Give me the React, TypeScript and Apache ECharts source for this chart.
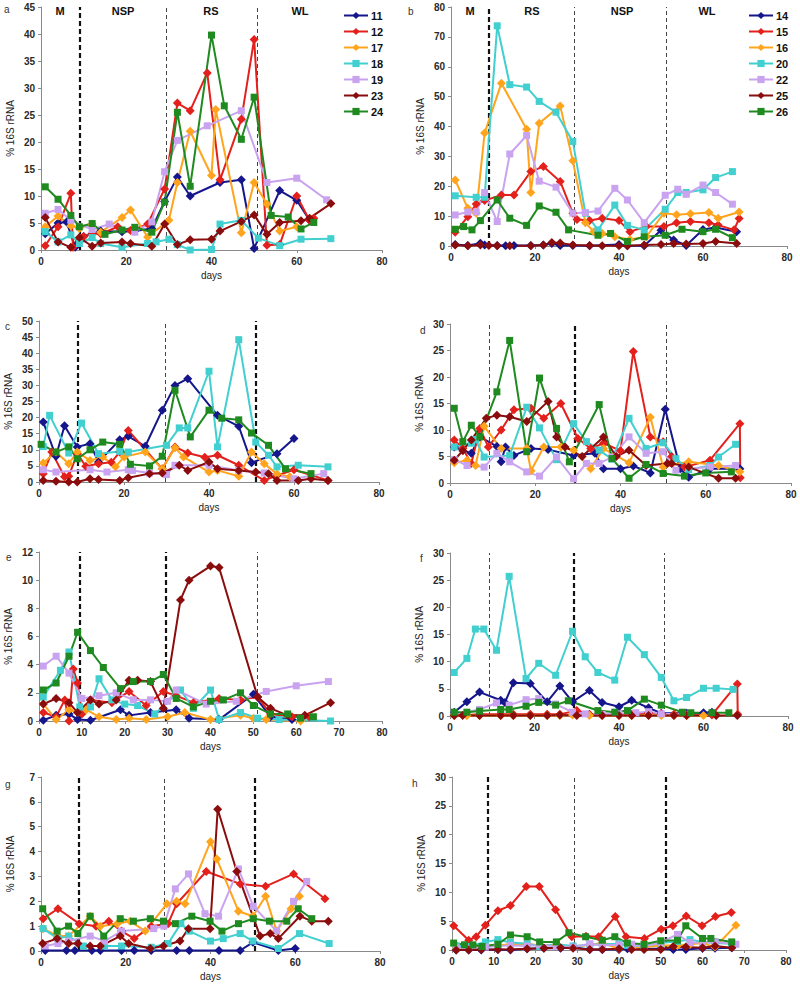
import React, { useEffect, useRef } from 'react';
import * as echarts from 'echarts';

// ---------- series names, colours, markers ----------
const NAMES_L = ['11', '12', '17', '18', '19', '23', '24'];
const NAMES_R = ['14', '15', '16', '20', '22', '25', '26'];
const COLORS = ['#15158c', '#e3201b', '#ffa41c', '#41cfcf', '#c9a3ef', '#8a0c0c', '#1f8a1f'];
const SYMBOLS = ['diamond', 'diamond', 'diamond', 'rect', 'rect', 'diamond', 'rect'];

// ---------- panel a ----------
const a11 = [[1,3],[4,5],[6,5.2],[8,0.5],[10,2.5],[12,3],[14,3.5],[19,3.4],[22,3.5],[26,4],[29,9],[32,13.5],[35,10],[42,12.5],[47,13],[50,0.3],[56,11],[60,9.2],[63,5.5]];
const a12 = [[1,0.8],[4,4.3],[7,10.5],[7.5,0.5],[10,2.5],[12,3],[14,3],[18,4.3],[21,3.6],[25,4.8],[29,11.3],[32,27.2],[35,25.8],[39,32.8],[42,13],[47,24.2],[50,39],[53,0.9],[56,1],[60,10],[63,5.5],[64,5.9]];
const a17 = [[1,4.3],[4,6.3],[7,4.5],[9,4],[12,4.8],[14,3.3],[19,6],[21,7.4],[25,2.4],[30,5.5],[32,12.5],[35,22],[40,13.8],[41,26],[47,3.2],[50,12.5],[53,8.5],[56,3.5],[60,4.3]];
const a18 = [[1,3.4],[4,1.5],[7,2.8],[9,1.2],[12,2.3],[14,1.2],[19,0.5],[25,1.2],[27,1.5],[30,2],[32,1],[35,0],[40,0.1],[42,4.8],[47,5.5],[51,2.2],[56,0.8],[61,2],[68,2.1]];
const a19 = [[1,6.8],[4,7.5],[7,5.5],[12,3.8],[16,4.8],[22,3.3],[26,5.2],[29,14.5],[32,20.3],[39,23],[47,25.8],[53,12.5],[60,13.3],[67,9.3]];
const a23 = [[1,6],[4,1.5],[7,0.5],[9,2.3],[12,0.7],[14,1.3],[19,1.5],[21,1.2],[26,0.7],[29,4.8],[32,1],[35,1.9],[40,2],[42,3.5],[47,5.3],[50,6.5],[53,2.9],[56,5.1],[61,5.4],[63,5.9],[68,8.6]];
const a24 = [[1,11.7],[4,9.4],[7,6.4],[9,4.3],[12,4.9],[15,2.9],[19,3.7],[22,4.2],[26,3.3],[29,8.9],[32,25.5],[35,11.8],[40,39.8],[43,26.7],[47,20.5],[50,28.3],[54,6.4],[58,6.1],[61,3.9],[64,5.1]];

// ---------- panel b ----------
const b14 = [[1,0.5],[4,0.2],[7,0.9],[8,0.3],[11,0.2],[13,0.1],[15,0.2],[19,0.2],[22,0.3],[24,0.8],[26,0.2],[29,0.2],[33,0.1],[40,0.5],[42,0.1],[46,0.1],[50,5.3],[53,2],[56,0.2],[60,5.5],[63,6.2],[68,4.8]];
const b15 = [[1,4.6],[4,9.8],[6,14.1],[8,15.2],[12,17.1],[15,17.1],[19,24.9],[22,26.6],[26,21.6],[29,11],[30,8.9],[33,8.5],[36,9.3],[40,8.5],[42.6,4.8],[46.5,6.5],[50.7,6.5],[53.7,7.8],[57,8.2],[61.4,7.8],[63.6,7],[67.4,5.4],[68.6,9.2]];
const b16 = [[1,22.1],[4,12.6],[6,11],[8,37.8],[12,54.5],[18,39.1],[19,17.9],[21,41.1],[26,46.9],[29,28.5],[32,7.8],[34,4.8],[36,4.2],[39,3.1],[42.6,2.2],[46.5,3.1],[50.7,11],[53.7,10.5],[57,10.8],[61.4,11.2],[63.6,9.3],[68.6,11.4]];
const b20 = [[1,16.8],[6,16.3],[8,16.3],[11,73.7],[14,54],[18,53.2],[21,48.4],[25,44.8],[29,35],[32,11],[35,5.4],[39,13.7],[42,6.9],[46,5.4],[51,12.3],[54,17.9],[56,17.9],[60,18.8],[63,22.9],[67,24.9]];
const b22 = [[1,10.4],[4,11.4],[6,11.4],[8,17.9],[11,8.2],[14,30.8],[18,37],[21,21.7],[25,19.7],[29,11],[32,11.2],[35,11.7],[39,19.3],[42,15.4],[46,7.8],[51,17],[54,19],[56,17.3],[60,20.4],[63,17.9],[67,14]];
const b25 = [[1,0.3],[4,0.1],[7,0.3],[9,0.2],[11,0.1],[14,0.1],[19,0.1],[22,0.3],[24,1.2],[26,1],[29,0.3],[33,0.2],[36,0.1],[40,0.1],[42,0.1],[46,0.3],[50,0.5],[53,0.8],[56,0.7],[60,0.8],[63,1.5],[68,0.8]];
const b26 = [[1,5.6],[3,6.5],[5,5.4],[7,8.5],[11,15.4],[14,9.3],[18,6.9],[21,13.4],[25,11.3],[28,5.4],[35,3.6],[38,4.2],[42,1.5],[46,3.1],[51,3.6],[55,5.6],[60,4.8],[63,5.6],[67,2.8]];

// ---------- panel c ----------
const c11 = [[1,18.6],[4,8],[6,17.5],[9,10.9],[12,11.9],[14,6.2],[19,13.1],[21,14.2],[25,11.1],[29,22.3],[32,30],[35,32.1],[42,20.7],[47,17.3],[50,6],[56,8.8],[60,13.5]];
const c12 = [[1,2.6],[3,9.3],[6,1.6],[7,1.8],[9,8.8],[11,4.9],[14,5.7],[17,6.1],[19,9.3],[21,16],[29,4.1],[32,10.9],[35,9],[39,7.7],[42,8.3],[47,5.2],[53,0.5],[56,2],[60,3.8],[68,0.5]];
const c17 = [[1,5.9],[4,9.3],[7,5.7],[9,9.3],[12,6.7],[15,7.8],[18,4.7],[20,7.8],[25,9.3],[29,4.1],[32,10.6],[34,7.8],[40,3.1],[42,3.6],[47,1.8],[50,9.3],[53,5.7],[56,2.5],[59,1.6]];
const c18 = [[1,11],[2.5,20.7],[7,9],[10,18.3],[14,8.8],[19,9.5],[21,9.3],[30,11.4],[33,16.8],[35,16.8],[40,34.4],[42,10.9],[47,44.2],[51,12.4],[54,8.3],[56,4.7],[61,5.2],[68,4.7]];
const c19 = [[1,3.8],[4,3.1],[12,3.8],[16,3.1],[21,3.8],[22,3.6],[26,2.8],[30,2.3],[32,5.2],[40,5.2],[47,3.6],[53,2.8],[60,1],[67,2.6]];
const c23 = [[1,0.5],[4,0.2],[7,0],[9,0],[12,1],[14,0.8],[19,0.5],[21,1.3],[26,2.6],[29,2.8],[33,5.2],[35,3.6],[40,6.2],[42,4.1],[47,3.6],[51,3.1],[54,2.6],[56,0.5],[61,0.5],[64,1],[68,0.5]];
const c24 = [[0.5,11.7],[4,9.3],[7,10.9],[9,7.2],[12,10],[15,12.4],[19,11.7],[21.5,5.5],[26,5],[29,8],[32,28.5],[35.6,14],[40,22.3],[43,19.8],[47,19.3],[50,15.2],[54,11.4],[58,4.1],[64,2.6]];

// ---------- panel d ----------
const d14 = [[1,6.8],[5,5.6],[7,8.7],[11,6.9],[12,4],[13,6.8],[15,5.2],[19,6.5],[23,6.3],[29,5.2],[34,5.6],[36,2.7],[40,2.7],[43,3.2],[47,1.9],[50.5,13.9],[54,2.7],[56,1.1],[61,2.7],[68,2.7]];
const d15 = [[1,8.1],[3,6.5],[5,3.7],[7,10.3],[9,6.8],[12,10],[15,13.8],[19,14.1],[22,12.2],[26,15],[30,8.4],[33,6.5],[36,7.5],[40,6.1],[43,24.8],[47,8.7],[50,7.8],[52,5],[55,3],[61,4.3],[68,11.2],[68.1,1]];
const d16 = [[1,3.8],[4,4.3],[6,3.3],[8,10.7],[12,6.5],[18,6.5],[19,2.3],[22,6.8],[26,6.8],[29,6.2],[33,2.7],[36,6.5],[42,3.8],[47,12.4],[50,3],[56,4],[63,3.3],[68,2.1]];
const d20 = [[1,6.8],[5,7.5],[6,8.2],[8,4.9],[14,5.2],[18,14.3],[21,10.4],[25,4.4],[29,11.2],[32,7.8],[35,6.2],[38,4.5],[42,12.2],[46,6.5],[50,7.6],[53,4.6],[56,2.5],[61,3.3],[63,4.9],[67,7.3]];
const d22 = [[1,4.4],[4,3.3],[8,3],[11,5.6],[14,4],[18,2.1],[21,1.3],[25,4.9],[29,0.8],[32,3.7],[35,3.7],[38,4.9],[42,8.7],[46,5.6],[50,5.9],[53,2.4],[61,3],[67,3.3]];
const d25 = [[1,4.3],[3,6.1],[5,8.1],[8.5,12.2],[11,12.8],[14,12.5],[18,11.6],[23,15.4],[25,8.7],[27,6.8],[31,5],[36,8.7],[39,5],[42,6.2],[46,3.3],[51,3.7],[52,3.7],[56,3],[63,0.9],[67,0.9]];
const d26 = [[1,14.1],[3,7.8],[5,10.9],[7,8.7],[11,17.2],[14,26.9],[18,5.9],[21,19.8],[25,10.3],[28,4],[35,14.8],[38,4.6],[42,0.9],[46,3.5],[50,1.8],[55,1.3],[60,1.9],[66,2.1]];

// ---------- panel e ----------
const e11 = [[1,0.05],[4,0.4],[7,0.5],[9,0.1],[12,0.05],[19,0.8],[21,0.4],[26,0.6],[32,0.8],[35,0.2],[42,0.1],[50,1.9],[54,0.3],[59,0.1]];
const e12 = [[1,0.6],[4,0.3],[6,1.5],[7,0],[8,3.7],[9,2.7],[10,0.5],[12,1.5],[17,1.3],[21,2.1],[25,1.1],[29,2.1],[32,1.8],[36,1.3],[42,1.6],[47,1.5],[51,1.7],[54,0.5],[59,0.3],[63,0.3]];
const e17 = [[1,1.2],[4,0.1],[7,0.8],[9,0.6],[11,0.8],[14,0.3],[18,0.1],[21,0.2],[25,0.1],[30,0.3],[34,0.6],[40,0.1],[47,0.4],[50,0.2],[53,0.1],[61,0]];
const e18 = [[1,1.7],[5,3.6],[7,4.9],[9.5,1],[12,1],[14,3],[17,1.5],[20,1.2],[23,1.1],[27,0.5],[33,2.2],[36,0.9],[40,2.2],[42,0.1],[47,0.6],[51,0.2],[56,0.1],[68,0]];
const e19 = [[1,3.9],[4,4.6],[7,3.4],[10,1.6],[14,1.8],[18,2],[22,1.5],[26,1.5],[30,1.4],[32,2.2],[39,1.2],[46,1.4],[53,2.1],[60,2.5],[67.5,2.8]];
const e23 = [[1,1.2],[4,1.6],[7,1.3],[9,0.6],[12,1.5],[14,1.2],[18,1.5],[21,2.9],[23,2.9],[26,2.8],[29,0.9],[33,8.6],[35,10],[40,11],[42,10.9],[51,1.7],[54,0.9],[58,0.4],[62,0.4],[68,1.3]];
const e24 = [[1,2.2],[4,2.7],[7,4.6],[9,6.3],[12,5],[15,3.8],[19,2.3],[22,2.8],[26,2.8],[29,3.3],[32,1.6],[36,1],[40,1.4],[43,1.5],[47,2],[50,1.1],[54,0.5],[58,0.5],[61,0.2],[64,0.3]];

// ---------- panel f ----------
const f14 = [[1,0.7],[4,2.6],[7,4.4],[12,2.9],[13,2.5],[15,6.1],[19,6],[23,2.6],[26,5.5],[29,2.6],[33,4.7],[36,2.5],[40,1.7],[43,2.9],[47,1.5],[50,0.5],[56,0.5],[60,0.6],[62,0.7]];
const f15 = [[1,0.2],[4,0.2],[7,0.3],[12,0.3],[15,0.3],[19,0.3],[23,0.3],[26,0.3],[30,1],[33,0.3],[36,0.2],[40,0.2],[43,0.3],[47,0.6],[50,0.4],[53,0.3],[56,0.2],[62,0.2],[68,5.9],[68.1,0.3]];
const f16 = [[1,0.1],[4,0.1],[7,0.1],[12,0.1],[15,0.1],[19,0.1],[23,0.1],[26,0.1],[29,0.2],[33,0.1],[36,0.1],[40,0.1],[43,0.1],[47,0.2],[50,0.1],[53,0.1],[56,0.1],[60,0.1]];
const f20 = [[1,8],[4,10.6],[6,16],[8,16],[11,12.1],[14,25.7],[18,6.9],[21,9.7],[25,7.5],[29,15.6],[32,10.9],[35,8],[39,6.6],[42,14.5],[46,11.3],[50,7.1],[53,2.8],[56,3.4],[60,5.1],[63,5.1],[67,4.9]];
const f22 = [[1,0.3],[7,1.2],[11,2.4],[14,2],[18,3],[21,3.2],[25,2.2],[29,0.7],[32,0.4],[36,0.3],[40,0.4],[44,0.6],[47,0.8],[50,0.4],[56,0.3]];
const f25 = [[1,0.1],[3,0.1],[7,0.1],[12,0.1],[15,0.1],[19,0.1],[23,0.1],[26,0.2],[30,0.1],[36,0.1],[40,0.1],[43,0.1],[47,0.1],[53,0.1],[56,0.1],[63,0.1],[68,0.1]];
const f26 = [[1,0.7],[4,0.7],[7,0.9],[12,1.2],[14,1.2],[18,1.8],[21,2.5],[25,2],[28,2.8],[35,1],[39,0.7],[42,1],[46,3.1],[50,2],[55,0.7],[57,0.6],[62,0.6],[66,0.6]];

// ---------- panel g ----------
const g11 = [[1,0.02],[6,0.02],[8,0.02],[12,0.02],[14,0.02],[19,0.02],[22,0.02],[26,0.02],[32,0.02],[35,0.02],[42,0.02],[47,0.02],[50,0.35],[56,0.02],[60,0.1]];
const g12 = [[0.5,1.3],[4,1.7],[9,1.1],[13,1],[16,1.2],[19,0.8],[22,0.5],[26,1],[30,1.1],[32,1.9],[39,3.2],[47,2.7],[53,2.6],[59.6,3.1],[67,2.1]];
const g17 = [[0.5,0.9],[4,0.6],[6.5,0.6],[11.6,1.4],[14,1],[18,1.1],[21,1.2],[24.6,0.8],[29.7,1.9],[32,2],[34,1.9],[40,4.4],[41.5,3.7],[46.6,1.6],[50,1.4],[53,2.2],[55.6,0.8],[59,1.7],[61,2.2]];
const g18 = [[0.5,0.9],[4,0.5],[6.5,0.6],[10,0.2],[15,0.2],[19,0.2],[26,0.15],[30,0.3],[33,1.1],[35,0.8],[40,0.4],[43,0.5],[47,0.7],[50,0.4],[56,0.1],[61,0.7],[68,0.3]];
const g19 = [[1,0.2],[4,0.3],[6.5,0.4],[11.6,0.6],[15,0.4],[19,0.8],[26.6,0.9],[29,1],[31.7,2.5],[34.8,3.1],[38.7,1.5],[41.9,1.4],[46.6,3.3],[50.1,1.8],[55.6,0.8],[59.6,2],[62.7,2.8]];
const g23 = [[0.4,0.3],[3.8,0.5],[6.5,0.3],[8.7,0.3],[11.6,0.2],[14,0.2],[18.7,0.6],[20.7,0.3],[25.8,0.1],[28.9,0.2],[32.8,0.4],[34.8,0.9],[39.9,0.9],[41.7,5.7],[46.2,3.2],[51.7,0.6],[54.1,0.7],[56,0.5],[61.1,1.4],[63.9,1.2],[67.8,1.2]];
const g24 = [[0.4,1.7],[3.8,0.8],[6.5,1],[8.7,0.7],[11.6,1.4],[14.8,0.6],[18.7,1.3],[21.8,1.2],[25.8,1.3],[28.9,1.2],[31.7,1.1],[35.6,1.4],[39.9,1.2],[42.7,0.8],[46.6,1.1],[50.1,1.3],[53.9,1.2],[58,1.2],[60.7,1.7],[63.9,1.3]];

// ---------- panel h ----------
const h14 = [[1,0],[4,0],[7,0],[11,0.1],[14,0],[18,0.2],[22,0.3],[26,0.3],[29,0.5],[33,0.1],[36,0.1],[40,0.1],[42,0.2],[46,0.2],[50,0.2],[53,0.1],[56,0.1],[60,0.3],[63,0.3],[67,0.4]];
const h15 = [[0.4,4.2],[4,1.7],[5.8,2.3],[8,4.3],[11,6.8],[14,7.7],[17.8,11],[20.9,11],[24.8,7],[28.7,2.3],[32.1,2.4],[35.1,2.3],[39.1,5.8],[41.7,2.3],[46.1,2],[50.1,3.6],[52.9,4.2],[56.1,5.9],[59.9,4.2],[63.1,5.8],[66.9,6.5]];
const h16 = [[1,0.3],[4,0.4],[8,0.9],[11,0.8],[14,1],[18,1.1],[21,0.8],[25,0.9],[29,0.5],[33,0.9],[36,1.2],[40,0.2],[43,0.3],[46,0.5],[50,0.8],[54,0.8],[57,1],[60,1.2],[63,0.5],[68,4.3]];
const h20 = [[1,0.7],[4,0.6],[8,1.4],[11,1.8],[14,1.3],[18,1.1],[21,0.6],[25,1],[29,0.7],[33,0.9],[36,1],[40,1.1],[42,0.8],[46,0.7],[50,1.2],[54,1.5],[57,1.8],[60,1.4],[63,1.2],[67,1.1]];
const h22 = [[1,0.4],[4,0.3],[8,0.5],[11,0.7],[14,0.8],[18,0.7],[21,0.9],[25,0.6],[29,0.5],[33,1.1],[36,0.8],[40,0.9],[43,1],[46,0.6],[50,1.3],[54,2.7],[57,1.3],[60,1.2],[63,1.4],[68,1]];
const h25 = [[1,0],[4,0],[7,0.1],[11,0.1],[14,0.1],[18,0.2],[22,0.3],[26,0.4],[29,0.3],[33,0.1],[36,0.1],[40,0.2],[43,0.1],[46,0.1],[50,0.1],[53,0.6],[56,0.5],[60,0.4],[63,0.7],[67,0.4]];
const h26 = [[0.4,1.2],[3,0.9],[5,0.9],[7.2,0.6],[11,1],[14,2.6],[18,2.3],[21,1.4],[25,1.4],[28,3],[32,2.3],[36,1.7],[39,2.3],[42,1.2],[46,1],[50,1.6],[54,1.7],[56,4.2],[60,2],[62,2],[67,1.4]];

// phase boundaries (day, bold?) and axis scales
const DIV_A = [[9.2, 1], [29.3, 0], [50.7, 0]];
const DIV_B = [[8.9, 1], [29.4, 0], [51.2, 0]];
const DIV_C = [[9.0, 1], [29.6, 0], [51.0, 1]];
const DIV_D = [[9.2, 0], [29.3, 1], [50.7, 0]];
const DIV_E = [[9.5, 1], [29.6, 1], [50.9, 0]];
const DIV_F = [[9.2, 0], [29.4, 1], [50.7, 0]];
const DIV_G = [[9.0, 1], [29.2, 0], [50.5, 1]];
const DIV_H = [[8.5, 1], [29.3, 0], [51.1, 1]];

const PANELS = [
  { letter: 'a', names: NAMES_L, data: [a11, a12, a17, a18, a19, a23, a24], ymax: 45, yint: 5, xint: 20, div: DIV_A, g: [41, 7, 341, 243], lp: [4, 4] },
  { letter: 'b', names: NAMES_R, data: [b14, b15, b16, b20, b22, b25, b26], ymax: 80, yint: 10, xint: 20, div: DIV_B, g: [451, 7, 336, 239], lp: [408, 6] },
  { letter: 'c', names: NAMES_L, data: [c11, c12, c17, c18, c19, c23, c24], ymax: 50, yint: 5, xint: 20, div: DIV_C, g: [39, 321, 340, 161], lp: [5, 321] },
  { letter: 'd', names: NAMES_R, data: [d14, d15, d16, d20, d22, d25, d26], ymax: 30, yint: 5, xint: 20, div: DIV_D, g: [450, 324, 341, 159], lp: [420, 325] },
  { letter: 'e', names: NAMES_L, data: [e11, e12, e17, e18, e19, e23, e24], ymax: 12, yint: 2, xint: 10, div: DIV_E, g: [39, 552, 343, 169], lp: [6, 552] },
  { letter: 'f', names: NAMES_R, data: [f14, f15, f16, f20, f22, f25, f26], ymax: 30, yint: 5, xint: 20, div: DIV_F, g: [450, 553, 338, 163], lp: [420, 553] },
  { letter: 'g', names: NAMES_L, data: [g11, g12, g17, g18, g19, g23, g24], ymax: 7, yint: 1, xint: 20, div: DIV_G, g: [41, 777, 339, 174], lp: [5, 779] },
  { letter: 'h', names: NAMES_R, data: [h14, h15, h16, h20, h22, h25, h26], ymax: 30, yint: 5, xint: 10, div: DIV_H, g: [452, 777, 334, 173], lp: [412, 778] },
];

const PHASES_A = [['M', 60], ['NSP', 123], ['RS', 211], ['WL', 300]];
const PHASES_B = [['M', 470], ['RS', 532], ['NSP', 622], ['WL', 707]];

const FONT = 'Liberation Sans, Arial, sans-serif';

export default function App() {
  const ref = useRef<HTMLDivElement>(null);
  useEffect(() => {
    if (!ref.current) return;
    const chart = echarts.init(ref.current, undefined, { renderer: 'svg' });
    const grid: any[] = [];
    const xAxis: any[] = [];
    const yAxis: any[] = [];
    const series: any[] = [];
    const graphic: any[] = [];
    const axisCommon = {
      axisLine: { lineStyle: { color: '#8a8a8a', width: 1 } },
      axisTick: { show: true, length: 3, lineStyle: { color: '#8a8a8a' } },
      splitLine: { show: false },
      axisLabel: { fontSize: 10, fontWeight: 'bold', color: '#2a2a2a', fontFamily: FONT, margin: 6 },
    };
    PANELS.forEach((p, i) => {
      grid.push({ left: p.g[0], top: p.g[1], width: p.g[2], height: p.g[3] });
      xAxis.push({
        type: 'value', gridIndex: i, min: 0, max: 80, interval: p.xint,
        name: 'days', nameLocation: 'middle', nameGap: 20,
        nameTextStyle: { fontSize: 10, color: '#222', fontFamily: FONT },
        ...axisCommon,
      });
      yAxis.push({
        type: 'value', gridIndex: i, min: 0, max: p.ymax, interval: p.yint,
        name: '% 16S rRNA', nameLocation: 'middle', nameGap: 26, nameRotate: 90,
        nameTextStyle: { fontSize: 10, color: '#222', fontFamily: FONT },
        ...axisCommon,
      });
      p.data.forEach((d, k) => {
        const s: any = {
          type: 'line', name: p.names[k], xAxisIndex: i, yAxisIndex: i,
          data: d, color: COLORS[k], symbol: SYMBOLS[k],
          symbolSize: SYMBOLS[k] === 'rect' ? 7 : 9,
          lineStyle: { width: 2, color: COLORS[k] },
          itemStyle: { color: COLORS[k] },
          z: 3,
        };
        if (k === 0) {
          s.markLine = {
            silent: true, symbol: ['none', 'none'], label: { show: false }, z: 1,
            data: p.div.map(([x, b]) => ({
              xAxis: x,
              lineStyle: b
                ? { type: [5, 3], width: 2.2, color: '#111' }
                : { type: [4, 3], width: 1, color: '#444' },
            })),
          };
        }
        series.push(s);
      });
      graphic.push({
        type: 'text', left: p.lp[0], top: p.lp[1],
        style: { text: p.letter, fontSize: 10, fill: '#333', fontFamily: FONT },
      });
    });
    PHASES_A.concat(PHASES_B).forEach(([t, x]) => {
      graphic.push({
        type: 'text', x: x as number, y: 11,
        style: { text: t as string, fontSize: 11, fontWeight: 'bold', fill: '#111', fontFamily: FONT, align: 'center', verticalAlign: 'middle' },
      });
    });
    const legendCommon = {
      orient: 'vertical', itemWidth: 24, itemHeight: 9, itemGap: 5,
      textStyle: { fontSize: 11, fontWeight: 'bold', color: '#111', fontFamily: FONT, padding: [0, 0, 0, -2] },
    };
    chart.setOption({
      animation: false,
      backgroundColor: '#fff',
      grid, xAxis, yAxis, series, graphic,
      legend: [
        { ...legendCommon, data: NAMES_L, left: 338, top: 5 },
        { ...legendCommon, data: NAMES_R, left: 743, top: 5 },
      ],
    });
    return () => chart.dispose();
  }, []);
  return <div ref={ref} style={{ position: 'absolute', left: 0, top: 0, width: 800, height: 989 }} />;
}
